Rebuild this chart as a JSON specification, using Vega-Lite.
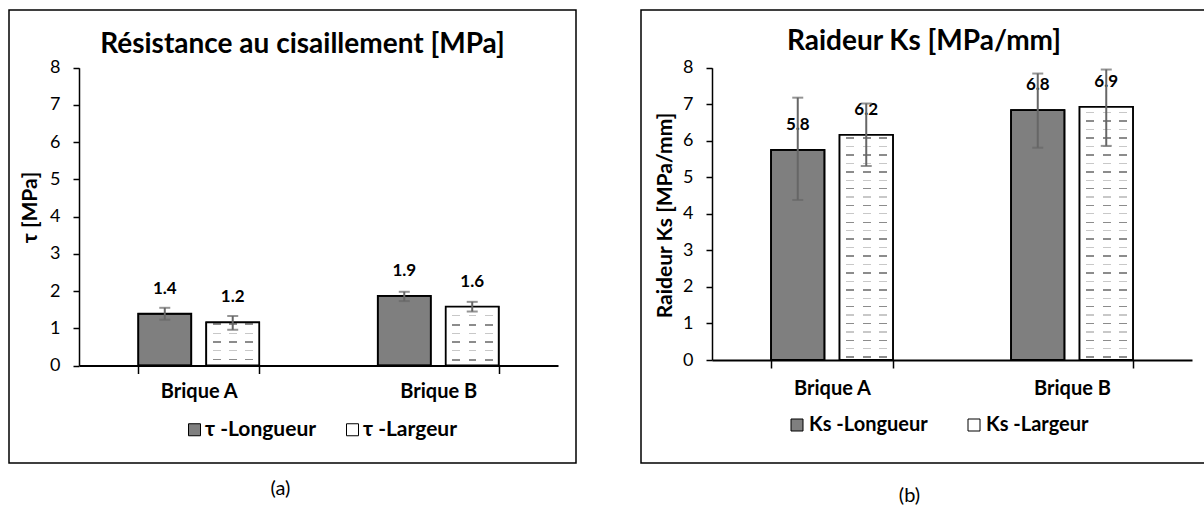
{
  "$schema": "https://vega.github.io/schema/vega-lite/v6.json",
  "padding": {"left": 8, "top": 9, "right": 0, "bottom": 0},
  "background": "white",
  "spacing": 63,
  "config": {
    "font": "Lato",
    "view": {"stroke": "black", "strokeWidth": 1.5, "fill": "white"},
    "axis": {"grid": false, "domainColor": "black", "tickColor": "black", "labelColor": "black", "titleColor": "black", "labelFont": "Lato", "titleFont": "Lato"}
  },
  "datasets": {
    "tau": [
      {"brique": "Brique A", "serie": "τ -Longueur", "value": 1.39, "lo": 1.23, "hi": 1.55},
      {"brique": "Brique A", "serie": "τ -Largeur", "value": 1.16, "lo": 0.96, "hi": 1.33},
      {"brique": "Brique B", "serie": "τ -Longueur", "value": 1.87, "lo": 1.73, "hi": 1.98},
      {"brique": "Brique B", "serie": "τ -Largeur", "value": 1.58, "lo": 1.45, "hi": 1.71}
    ],
    "ks": [
      {"brique": "Brique A", "serie": "Ks -Longueur", "value": 5.75, "lo": 4.38, "hi": 7.18},
      {"brique": "Brique A", "serie": "Ks -Largeur", "value": 6.16, "lo": 5.31, "hi": 7.02},
      {"brique": "Brique B", "serie": "Ks -Longueur", "value": 6.84, "lo": 5.81, "hi": 7.84},
      {"brique": "Brique B", "serie": "Ks -Largeur", "value": 6.93, "lo": 5.86, "hi": 7.95}
    ]
  },
  "hconcat": [
    {
      "width": 567,
      "height": 453,
      "data": {"name": "tau"},
      "title": {"text": "Résistance au cisaillement [MPa]", "offset": -71, "dx": 10, "fontSize": 28, "fontWeight": "bold", "font": "Lato", "baseline": "alphabetic", "anchor": "middle", "color": "black"},
      "encoding": {
        "x": {"field": "brique", "type": "nominal", "title": "(a)",
          "scale": {"domain": ["Brique A", "Brique B"], "range": [70, 549], "paddingInner": 0.495, "paddingOuter": 0.2475},
          "axis": {"orient": "bottom", "offset": -97.5, "domainWidth": 2, "tickBand": "extent", "tickSize": 8, "tickWidth": 1.5, "labelFontSize": 20, "labelFontWeight": "bold", "labelPadding": 18, "labelBaseline": "middle", "labelAngle": 0, "titleFontSize": 20, "titleFontWeight": "normal", "titleX": 271, "titleY": 122.5, "titleBaseline": "middle", "titleAlign": "center"}},
        "xOffset": {"field": "serie", "type": "nominal", "scale": {"domain": ["τ -Longueur", "τ -Largeur"], "paddingInner": 0.22, "paddingOuter": 0}},
        "y": {"field": "value", "type": "quantitative", "title": "τ [MPa]",
          "scale": {"domain": [0, 8], "range": [355.5, 57.7], "nice": false, "zero": true},
          "axis": {"offset": -70, "values": [0, 1, 2, 3, 4, 5, 6, 7, 8], "domainWidth": 1.5, "tickSize": 6, "tickWidth": 1.5, "labelFontSize": 18, "labelPadding": 13, "titleFontSize": 21, "titleFontWeight": "bold", "titleX": -49, "titleY": 197, "titleBaseline": "middle", "titleAngle": -90, "titleAlign": "center"}}
      },
      "layer": [
        {
          "mark": {"type": "bar", "stroke": "black", "strokeWidth": 1.5},
          "encoding": {
            "color": {"field": "serie", "type": "nominal",
              "scale": {"domain": ["τ -Longueur", "τ -Largeur"], "range": ["#7f7f7f", "#ffffff"]},
              "legend": {"title": null, "orient": "none", "legendX": 175, "legendY": 409, "direction": "horizontal", "symbolType": "square", "symbolSize": 144, "symbolStrokeColor": "black", "symbolStrokeWidth": 1, "labelFontSize": 21, "labelFontWeight": "bold", "labelFont": "Lato", "labelColor": "black", "columnPadding": 25, "labelOffset": 0, "padding": 0}}
          }
        },
        {
          "transform": [{"filter": {"and": [{"field": "brique", "equal": "Brique A"}, {"field": "serie", "equal": "τ -Largeur"}]}}],
          "mark": {"type": "bar", "strokeWidth": 0, "fill": {"gradient": "linear", "x1": 0, "y1": 1, "x2": 0, "y2": 0, "stops": [
            {"offset": 0, "color": "#ffffff"},
            {"offset": 0.1158, "color": "#ffffff"}, {"offset": 0.1158, "color": "#8c8c8c"}, {"offset": 0.1621, "color": "#8c8c8c"}, {"offset": 0.1621, "color": "#ffffff"},
            {"offset": 0.3277, "color": "#ffffff"}, {"offset": 0.3277, "color": "#c8c8c8"}, {"offset": 0.3555, "color": "#c8c8c8"}, {"offset": 0.3555, "color": "#ffffff"},
            {"offset": 0.5211, "color": "#ffffff"}, {"offset": 0.5211, "color": "#8c8c8c"}, {"offset": 0.5674, "color": "#8c8c8c"}, {"offset": 0.5674, "color": "#ffffff"},
            {"offset": 0.7330, "color": "#ffffff"}, {"offset": 0.7330, "color": "#c8c8c8"}, {"offset": 0.7608, "color": "#c8c8c8"}, {"offset": 0.7608, "color": "#ffffff"},
            {"offset": 0.9264, "color": "#ffffff"}, {"offset": 0.9264, "color": "#8c8c8c"}, {"offset": 0.9727, "color": "#8c8c8c"}, {"offset": 0.9727, "color": "#ffffff"},
            {"offset": 1, "color": "#ffffff"}
          ]}}
        },
        {
          "transform": [{"filter": {"and": [{"field": "brique", "equal": "Brique B"}, {"field": "serie", "equal": "τ -Largeur"}]}}],
          "mark": {"type": "bar", "strokeWidth": 0, "fill": {"gradient": "linear", "x1": 0, "y1": 1, "x2": 0, "y2": 0, "stops": [
            {"offset": 0, "color": "#ffffff"},
            {"offset": 0.0850, "color": "#ffffff"}, {"offset": 0.0850, "color": "#8c8c8c"}, {"offset": 0.1190, "color": "#8c8c8c"}, {"offset": 0.1190, "color": "#ffffff"},
            {"offset": 0.2406, "color": "#ffffff"}, {"offset": 0.2406, "color": "#c8c8c8"}, {"offset": 0.2610, "color": "#c8c8c8"}, {"offset": 0.2610, "color": "#ffffff"},
            {"offset": 0.3825, "color": "#ffffff"}, {"offset": 0.3825, "color": "#8c8c8c"}, {"offset": 0.4165, "color": "#8c8c8c"}, {"offset": 0.4165, "color": "#ffffff"},
            {"offset": 0.5381, "color": "#ffffff"}, {"offset": 0.5381, "color": "#c8c8c8"}, {"offset": 0.5585, "color": "#c8c8c8"}, {"offset": 0.5585, "color": "#ffffff"},
            {"offset": 0.6800, "color": "#ffffff"}, {"offset": 0.6800, "color": "#8c8c8c"}, {"offset": 0.7140, "color": "#8c8c8c"}, {"offset": 0.7140, "color": "#ffffff"},
            {"offset": 0.8356, "color": "#ffffff"}, {"offset": 0.8356, "color": "#c8c8c8"}, {"offset": 0.8560, "color": "#c8c8c8"}, {"offset": 0.8560, "color": "#ffffff"},
            {"offset": 1, "color": "#ffffff"}
          ]}}
        },
        {
          "transform": [{"filter": {"field": "serie", "equal": "τ -Largeur"}}],
          "mark": {"type": "bar", "strokeWidth": 0, "fill": {"gradient": "linear", "x1": 0, "y1": 0, "x2": 1, "y2": 0, "stops": [
            {"offset": 0, "color": "#ffffff"}, {"offset": 0.12, "color": "#ffffff"}, {"offset": 0.12, "color": "rgba(255,255,255,0)"}, {"offset": 0.27, "color": "rgba(255,255,255,0)"}, {"offset": 0.27, "color": "#ffffff"},
            {"offset": 0.43, "color": "#ffffff"}, {"offset": 0.43, "color": "rgba(255,255,255,0)"}, {"offset": 0.58, "color": "rgba(255,255,255,0)"}, {"offset": 0.58, "color": "#ffffff"},
            {"offset": 0.74, "color": "#ffffff"}, {"offset": 0.74, "color": "rgba(255,255,255,0)"}, {"offset": 0.89, "color": "rgba(255,255,255,0)"}, {"offset": 0.89, "color": "#ffffff"},
            {"offset": 1, "color": "#ffffff"}
          ]}}
        },
        {
          "mark": {"type": "bar", "filled": false, "color": "black", "strokeWidth": 1.8}
        },
        {
          "mark": {"type": "text", "dy": -25, "fontSize": 17, "fontWeight": "bold", "baseline": "middle", "color": "black", "font": "Lato"},
          "encoding": {"text": {"field": "value", "type": "quantitative", "format": ".1f"}}
        },
        {
          "mark": {"type": "rule", "color": "#666666", "strokeWidth": 2},
          "encoding": {
            "y": {"field": "lo", "type": "quantitative", "title": "τ [MPa]"},
            "y2": {"field": "hi"}
          }
        },
        {
          "mark": {"type": "tick", "color": "#666666", "thickness": 2, "size": 11, "orient": "horizontal"},
          "encoding": {"y": {"field": "lo", "type": "quantitative", "title": "τ [MPa]"}}
        },
        {
          "mark": {"type": "tick", "color": "#666666", "thickness": 2, "size": 11, "orient": "horizontal"},
          "encoding": {"y": {"field": "hi", "type": "quantitative", "title": "τ [MPa]"}}
        }
      ]
    },
    {
      "width": 566,
      "height": 453,
      "data": {"name": "ks"},
      "title": {"text": "Raideur Ks [MPa/mm]", "offset": -68, "dx": 0, "fontSize": 28, "fontWeight": "bold", "font": "Lato", "baseline": "alphabetic", "anchor": "middle", "color": "black"},
      "encoding": {
        "x": {"field": "brique", "type": "nominal", "title": "(b)",
          "scale": {"domain": ["Brique A", "Brique B"], "range": [71, 551], "paddingInner": 0.492, "paddingOuter": 0.246},
          "axis": {"orient": "bottom", "offset": -103, "domainWidth": 2, "tickBand": "extent", "tickSize": 8, "tickWidth": 1.5, "labelFontSize": 20, "labelFontWeight": "bold", "labelPadding": 20, "labelBaseline": "middle", "labelAngle": 0, "titleFontSize": 20, "titleFontWeight": "normal", "titleX": 268, "titleY": 135, "titleBaseline": "middle", "titleAlign": "center"}},
        "xOffset": {"field": "serie", "type": "nominal", "scale": {"domain": ["Ks -Longueur", "Ks -Largeur"], "paddingInner": 0.22, "paddingOuter": 0}},
        "y": {"field": "value", "type": "quantitative", "title": "Raideur Ks [MPa/mm]",
          "scale": {"domain": [0, 8], "range": [350, 57.7], "nice": false, "zero": true},
          "axis": {"offset": -71, "values": [0, 1, 2, 3, 4, 5, 6, 7, 8], "domainWidth": 1.5, "tickSize": 6, "tickWidth": 1.5, "labelFontSize": 18, "labelPadding": 13, "titleFontSize": 21, "titleFontWeight": "bold", "titleX": -47, "titleY": 205, "titleBaseline": "middle", "titleAngle": -90, "titleAlign": "center"}}
      },
      "layer": [
        {
          "mark": {"type": "bar", "stroke": "black", "strokeWidth": 1.5},
          "encoding": {
            "color": {"field": "serie", "type": "nominal",
              "scale": {"domain": ["Ks -Longueur", "Ks -Largeur"], "range": ["#7f7f7f", "#ffffff"]},
              "legend": {"title": null, "orient": "none", "legendX": 146, "legendY": 405, "direction": "horizontal", "symbolType": "square", "symbolSize": 144, "symbolStrokeColor": "black", "symbolStrokeWidth": 1, "labelFontSize": 20, "labelFontWeight": "bold", "labelFont": "Lato", "labelColor": "black", "columnPadding": 36, "labelOffset": 2, "padding": 0}}
          }
        },
        {
          "transform": [{"filter": {"and": [{"field": "brique", "equal": "Brique A"}, {"field": "serie", "equal": "Ks -Largeur"}]}}],
          "mark": {"type": "bar", "strokeWidth": 0, "fill": {"gradient": "linear", "x1": 0, "y1": 1, "x2": 0, "y2": 0, "stops": [
            {"offset": 0, "color": "#ffffff"},
            {"offset": 0.00889, "color": "#ffffff"}, {"offset": 0.00889, "color": "#8c8c8c"}, {"offset": 0.01600, "color": "#8c8c8c"}, {"offset": 0.01600, "color": "#ffffff"},
            {"offset": 0.04723, "color": "#ffffff"}, {"offset": 0.04723, "color": "#c8c8c8"}, {"offset": 0.05256, "color": "#c8c8c8"}, {"offset": 0.05256, "color": "#ffffff"},
            {"offset": 0.08380, "color": "#ffffff"}, {"offset": 0.08380, "color": "#8c8c8c"}, {"offset": 0.09090, "color": "#8c8c8c"}, {"offset": 0.09090, "color": "#ffffff"},
            {"offset": 0.12214, "color": "#ffffff"}, {"offset": 0.12214, "color": "#c8c8c8"}, {"offset": 0.12747, "color": "#c8c8c8"}, {"offset": 0.12747, "color": "#ffffff"},
            {"offset": 0.15871, "color": "#ffffff"}, {"offset": 0.15871, "color": "#8c8c8c"}, {"offset": 0.16582, "color": "#8c8c8c"}, {"offset": 0.16582, "color": "#ffffff"},
            {"offset": 0.19705, "color": "#ffffff"}, {"offset": 0.19705, "color": "#c8c8c8"}, {"offset": 0.20238, "color": "#c8c8c8"}, {"offset": 0.20238, "color": "#ffffff"},
            {"offset": 0.23362, "color": "#ffffff"}, {"offset": 0.23362, "color": "#8c8c8c"}, {"offset": 0.24073, "color": "#8c8c8c"}, {"offset": 0.24073, "color": "#ffffff"},
            {"offset": 0.27196, "color": "#ffffff"}, {"offset": 0.27196, "color": "#c8c8c8"}, {"offset": 0.27729, "color": "#c8c8c8"}, {"offset": 0.27729, "color": "#ffffff"},
            {"offset": 0.30852, "color": "#ffffff"}, {"offset": 0.30852, "color": "#8c8c8c"}, {"offset": 0.31563, "color": "#8c8c8c"}, {"offset": 0.31563, "color": "#ffffff"},
            {"offset": 0.34687, "color": "#ffffff"}, {"offset": 0.34687, "color": "#c8c8c8"}, {"offset": 0.35220, "color": "#c8c8c8"}, {"offset": 0.35220, "color": "#ffffff"},
            {"offset": 0.38344, "color": "#ffffff"}, {"offset": 0.38344, "color": "#8c8c8c"}, {"offset": 0.39054, "color": "#8c8c8c"}, {"offset": 0.39054, "color": "#ffffff"},
            {"offset": 0.42178, "color": "#ffffff"}, {"offset": 0.42178, "color": "#c8c8c8"}, {"offset": 0.42711, "color": "#c8c8c8"}, {"offset": 0.42711, "color": "#ffffff"},
            {"offset": 0.45835, "color": "#ffffff"}, {"offset": 0.45835, "color": "#8c8c8c"}, {"offset": 0.46546, "color": "#8c8c8c"}, {"offset": 0.46546, "color": "#ffffff"},
            {"offset": 0.49669, "color": "#ffffff"}, {"offset": 0.49669, "color": "#c8c8c8"}, {"offset": 0.50202, "color": "#c8c8c8"}, {"offset": 0.50202, "color": "#ffffff"},
            {"offset": 0.53326, "color": "#ffffff"}, {"offset": 0.53326, "color": "#8c8c8c"}, {"offset": 0.54037, "color": "#8c8c8c"}, {"offset": 0.54037, "color": "#ffffff"},
            {"offset": 0.57160, "color": "#ffffff"}, {"offset": 0.57160, "color": "#c8c8c8"}, {"offset": 0.57693, "color": "#c8c8c8"}, {"offset": 0.57693, "color": "#ffffff"},
            {"offset": 0.60817, "color": "#ffffff"}, {"offset": 0.60817, "color": "#8c8c8c"}, {"offset": 0.61528, "color": "#8c8c8c"}, {"offset": 0.61528, "color": "#ffffff"},
            {"offset": 0.64651, "color": "#ffffff"}, {"offset": 0.64651, "color": "#c8c8c8"}, {"offset": 0.65184, "color": "#c8c8c8"}, {"offset": 0.65184, "color": "#ffffff"},
            {"offset": 0.68308, "color": "#ffffff"}, {"offset": 0.68308, "color": "#8c8c8c"}, {"offset": 0.69019, "color": "#8c8c8c"}, {"offset": 0.69019, "color": "#ffffff"},
            {"offset": 0.72142, "color": "#ffffff"}, {"offset": 0.72142, "color": "#c8c8c8"}, {"offset": 0.72675, "color": "#c8c8c8"}, {"offset": 0.72675, "color": "#ffffff"},
            {"offset": 0.75799, "color": "#ffffff"}, {"offset": 0.75799, "color": "#8c8c8c"}, {"offset": 0.76510, "color": "#8c8c8c"}, {"offset": 0.76510, "color": "#ffffff"},
            {"offset": 0.79633, "color": "#ffffff"}, {"offset": 0.79633, "color": "#c8c8c8"}, {"offset": 0.80166, "color": "#c8c8c8"}, {"offset": 0.80166, "color": "#ffffff"},
            {"offset": 0.83290, "color": "#ffffff"}, {"offset": 0.83290, "color": "#8c8c8c"}, {"offset": 0.84001, "color": "#8c8c8c"}, {"offset": 0.84001, "color": "#ffffff"},
            {"offset": 0.87124, "color": "#ffffff"}, {"offset": 0.87124, "color": "#c8c8c8"}, {"offset": 0.87657, "color": "#c8c8c8"}, {"offset": 0.87657, "color": "#ffffff"},
            {"offset": 0.90781, "color": "#ffffff"}, {"offset": 0.90781, "color": "#8c8c8c"}, {"offset": 0.91492, "color": "#8c8c8c"}, {"offset": 0.91492, "color": "#ffffff"},
            {"offset": 0.94615, "color": "#ffffff"}, {"offset": 0.94615, "color": "#c8c8c8"}, {"offset": 0.95148, "color": "#c8c8c8"}, {"offset": 0.95148, "color": "#ffffff"},
            {"offset": 0.98272, "color": "#ffffff"}, {"offset": 0.98272, "color": "#8c8c8c"}, {"offset": 0.98983, "color": "#8c8c8c"}, {"offset": 0.98983, "color": "#ffffff"},
            {"offset": 1, "color": "#ffffff"}
          ]}}
        },
        {
          "transform": [{"filter": {"and": [{"field": "brique", "equal": "Brique B"}, {"field": "serie", "equal": "Ks -Largeur"}]}}],
          "mark": {"type": "bar", "strokeWidth": 0, "fill": {"gradient": "linear", "x1": 0, "y1": 1, "x2": 0, "y2": 0, "stops": [
            {"offset": 0, "color": "#ffffff"},
            {"offset": 0.00790, "color": "#ffffff"}, {"offset": 0.00790, "color": "#8c8c8c"}, {"offset": 0.01422, "color": "#8c8c8c"}, {"offset": 0.01422, "color": "#ffffff"},
            {"offset": 0.04198, "color": "#ffffff"}, {"offset": 0.04198, "color": "#c8c8c8"}, {"offset": 0.04672, "color": "#c8c8c8"}, {"offset": 0.04672, "color": "#ffffff"},
            {"offset": 0.07449, "color": "#ffffff"}, {"offset": 0.07449, "color": "#8c8c8c"}, {"offset": 0.08081, "color": "#8c8c8c"}, {"offset": 0.08081, "color": "#ffffff"},
            {"offset": 0.10857, "color": "#ffffff"}, {"offset": 0.10857, "color": "#c8c8c8"}, {"offset": 0.11331, "color": "#c8c8c8"}, {"offset": 0.11331, "color": "#ffffff"},
            {"offset": 0.14107, "color": "#ffffff"}, {"offset": 0.14107, "color": "#8c8c8c"}, {"offset": 0.14739, "color": "#8c8c8c"}, {"offset": 0.14739, "color": "#ffffff"},
            {"offset": 0.17516, "color": "#ffffff"}, {"offset": 0.17516, "color": "#c8c8c8"}, {"offset": 0.17990, "color": "#c8c8c8"}, {"offset": 0.17990, "color": "#ffffff"},
            {"offset": 0.20766, "color": "#ffffff"}, {"offset": 0.20766, "color": "#8c8c8c"}, {"offset": 0.21398, "color": "#8c8c8c"}, {"offset": 0.21398, "color": "#ffffff"},
            {"offset": 0.24174, "color": "#ffffff"}, {"offset": 0.24174, "color": "#c8c8c8"}, {"offset": 0.24648, "color": "#c8c8c8"}, {"offset": 0.24648, "color": "#ffffff"},
            {"offset": 0.27425, "color": "#ffffff"}, {"offset": 0.27425, "color": "#8c8c8c"}, {"offset": 0.28057, "color": "#8c8c8c"}, {"offset": 0.28057, "color": "#ffffff"},
            {"offset": 0.30833, "color": "#ffffff"}, {"offset": 0.30833, "color": "#c8c8c8"}, {"offset": 0.31307, "color": "#c8c8c8"}, {"offset": 0.31307, "color": "#ffffff"},
            {"offset": 0.34084, "color": "#ffffff"}, {"offset": 0.34084, "color": "#8c8c8c"}, {"offset": 0.34715, "color": "#8c8c8c"}, {"offset": 0.34715, "color": "#ffffff"},
            {"offset": 0.37492, "color": "#ffffff"}, {"offset": 0.37492, "color": "#c8c8c8"}, {"offset": 0.37966, "color": "#c8c8c8"}, {"offset": 0.37966, "color": "#ffffff"},
            {"offset": 0.40742, "color": "#ffffff"}, {"offset": 0.40742, "color": "#8c8c8c"}, {"offset": 0.41374, "color": "#8c8c8c"}, {"offset": 0.41374, "color": "#ffffff"},
            {"offset": 0.44151, "color": "#ffffff"}, {"offset": 0.44151, "color": "#c8c8c8"}, {"offset": 0.44625, "color": "#c8c8c8"}, {"offset": 0.44625, "color": "#ffffff"},
            {"offset": 0.47401, "color": "#ffffff"}, {"offset": 0.47401, "color": "#8c8c8c"}, {"offset": 0.48033, "color": "#8c8c8c"}, {"offset": 0.48033, "color": "#ffffff"},
            {"offset": 0.50809, "color": "#ffffff"}, {"offset": 0.50809, "color": "#c8c8c8"}, {"offset": 0.51283, "color": "#c8c8c8"}, {"offset": 0.51283, "color": "#ffffff"},
            {"offset": 0.54060, "color": "#ffffff"}, {"offset": 0.54060, "color": "#8c8c8c"}, {"offset": 0.54692, "color": "#8c8c8c"}, {"offset": 0.54692, "color": "#ffffff"},
            {"offset": 0.57468, "color": "#ffffff"}, {"offset": 0.57468, "color": "#c8c8c8"}, {"offset": 0.57942, "color": "#c8c8c8"}, {"offset": 0.57942, "color": "#ffffff"},
            {"offset": 0.60719, "color": "#ffffff"}, {"offset": 0.60719, "color": "#8c8c8c"}, {"offset": 0.61351, "color": "#8c8c8c"}, {"offset": 0.61351, "color": "#ffffff"},
            {"offset": 0.64127, "color": "#ffffff"}, {"offset": 0.64127, "color": "#c8c8c8"}, {"offset": 0.64601, "color": "#c8c8c8"}, {"offset": 0.64601, "color": "#ffffff"},
            {"offset": 0.67378, "color": "#ffffff"}, {"offset": 0.67378, "color": "#8c8c8c"}, {"offset": 0.68009, "color": "#8c8c8c"}, {"offset": 0.68009, "color": "#ffffff"},
            {"offset": 0.70786, "color": "#ffffff"}, {"offset": 0.70786, "color": "#c8c8c8"}, {"offset": 0.71260, "color": "#c8c8c8"}, {"offset": 0.71260, "color": "#ffffff"},
            {"offset": 0.74036, "color": "#ffffff"}, {"offset": 0.74036, "color": "#8c8c8c"}, {"offset": 0.74668, "color": "#8c8c8c"}, {"offset": 0.74668, "color": "#ffffff"},
            {"offset": 0.77445, "color": "#ffffff"}, {"offset": 0.77445, "color": "#c8c8c8"}, {"offset": 0.77919, "color": "#c8c8c8"}, {"offset": 0.77919, "color": "#ffffff"},
            {"offset": 0.80695, "color": "#ffffff"}, {"offset": 0.80695, "color": "#8c8c8c"}, {"offset": 0.81327, "color": "#8c8c8c"}, {"offset": 0.81327, "color": "#ffffff"},
            {"offset": 0.84103, "color": "#ffffff"}, {"offset": 0.84103, "color": "#c8c8c8"}, {"offset": 0.84577, "color": "#c8c8c8"}, {"offset": 0.84577, "color": "#ffffff"},
            {"offset": 0.87354, "color": "#ffffff"}, {"offset": 0.87354, "color": "#8c8c8c"}, {"offset": 0.87986, "color": "#8c8c8c"}, {"offset": 0.87986, "color": "#ffffff"},
            {"offset": 0.90762, "color": "#ffffff"}, {"offset": 0.90762, "color": "#c8c8c8"}, {"offset": 0.91236, "color": "#c8c8c8"}, {"offset": 0.91236, "color": "#ffffff"},
            {"offset": 0.94013, "color": "#ffffff"}, {"offset": 0.94013, "color": "#8c8c8c"}, {"offset": 0.94645, "color": "#8c8c8c"}, {"offset": 0.94645, "color": "#ffffff"},
            {"offset": 0.97421, "color": "#ffffff"}, {"offset": 0.97421, "color": "#c8c8c8"}, {"offset": 0.97895, "color": "#c8c8c8"}, {"offset": 0.97895, "color": "#ffffff"},
            {"offset": 1, "color": "#ffffff"}
          ]}}
        },
        {
          "transform": [{"filter": {"field": "serie", "equal": "Ks -Largeur"}}],
          "mark": {"type": "bar", "strokeWidth": 0, "fill": {"gradient": "linear", "x1": 0, "y1": 0, "x2": 1, "y2": 0, "stops": [
            {"offset": 0, "color": "#ffffff"}, {"offset": 0.12, "color": "#ffffff"}, {"offset": 0.12, "color": "rgba(255,255,255,0)"}, {"offset": 0.27, "color": "rgba(255,255,255,0)"}, {"offset": 0.27, "color": "#ffffff"},
            {"offset": 0.43, "color": "#ffffff"}, {"offset": 0.43, "color": "rgba(255,255,255,0)"}, {"offset": 0.58, "color": "rgba(255,255,255,0)"}, {"offset": 0.58, "color": "#ffffff"},
            {"offset": 0.74, "color": "#ffffff"}, {"offset": 0.74, "color": "rgba(255,255,255,0)"}, {"offset": 0.89, "color": "rgba(255,255,255,0)"}, {"offset": 0.89, "color": "#ffffff"},
            {"offset": 1, "color": "#ffffff"}
          ]}}
        },
        {
          "mark": {"type": "bar", "filled": false, "color": "black", "strokeWidth": 1.8}
        },
        {
          "mark": {"type": "text", "dy": -25, "fontSize": 17, "fontWeight": "bold", "baseline": "middle", "color": "black", "font": "Lato"},
          "encoding": {"text": {"field": "value", "type": "quantitative", "format": ".1f"}}
        },
        {
          "mark": {"type": "rule", "color": "#666666", "strokeWidth": 2},
          "encoding": {
            "y": {"field": "lo", "type": "quantitative", "title": "Raideur Ks [MPa/mm]"},
            "y2": {"field": "hi"}
          }
        },
        {
          "mark": {"type": "tick", "color": "#666666", "thickness": 2, "size": 11, "orient": "horizontal"},
          "encoding": {"y": {"field": "lo", "type": "quantitative", "title": "Raideur Ks [MPa/mm]"}}
        },
        {
          "mark": {"type": "tick", "color": "#666666", "thickness": 2, "size": 11, "orient": "horizontal"},
          "encoding": {"y": {"field": "hi", "type": "quantitative", "title": "Raideur Ks [MPa/mm]"}}
        }
      ]
    }
  ],
  "resolve": {"scale": {"color": "independent", "x": "independent", "y": "independent", "xOffset": "independent"}, "legend": {"color": "independent"}}
}
